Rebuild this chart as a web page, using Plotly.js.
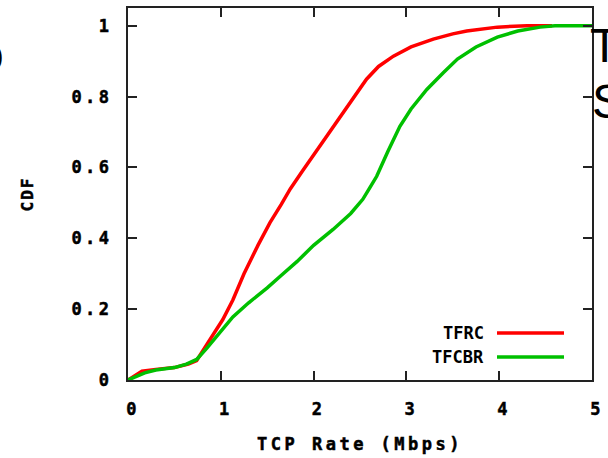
<!DOCTYPE html>
<html>
<head>
<meta charset="utf-8">
<script src="https://cdn.plot.ly/plotly-3.0.1.min.js"></script>
<style>
  html, body { margin: 0; padding: 0; background: #fff; }
  #chart { width: 608px; height: 458px; }
  #chart .xtick text, #chart .ytick text, #chart .xtitle, #chart .annotation.leg text { letter-spacing: 3.5px; stroke: #000; stroke-width: 0.5px; }
  #chart .ytitle { letter-spacing: 2px; stroke: #000; stroke-width: 0.5px; }
</style>
</head>
<body>
<div id="chart"></div>
<script>
// TFRC CDF (x: TCP rate in Mbps, y: CDF)
const tfrcX = [0, 0.1, 0.15, 0.3, 0.5, 0.65, 0.74, 0.8, 0.86, 0.95, 1.02, 1.13, 1.25, 1.4, 1.53, 1.65, 1.75, 1.88, 2.0, 2.21, 2.4, 2.57, 2.7, 2.86, 3.05, 3.29, 3.5, 3.65, 3.98, 4.3, 4.57];
const tfrcY = [0, 0.015, 0.025, 0.03, 0.035, 0.045, 0.055, 0.08, 0.105, 0.14, 0.17, 0.226, 0.3, 0.38, 0.444, 0.495, 0.54, 0.59, 0.635, 0.715, 0.785, 0.849, 0.885, 0.914, 0.94, 0.962, 0.977, 0.985, 0.996, 1.0, 1.0];
// TFCBR CDF
const tfcbrX = [0, 0.1, 0.18, 0.3, 0.5, 0.63, 0.74, 0.85, 0.99, 1.13, 1.3, 1.5, 1.65, 1.82, 2.0, 2.21, 2.4, 2.53, 2.6, 2.68, 2.8, 2.93, 3.05, 3.22, 3.4, 3.55, 3.75, 3.98, 4.2, 4.44, 4.6, 5.0];
const tfcbrY = [0, 0.01, 0.02, 0.028, 0.035, 0.045, 0.058, 0.09, 0.133, 0.178, 0.218, 0.26, 0.295, 0.334, 0.38, 0.425, 0.47, 0.51, 0.54, 0.575, 0.645, 0.716, 0.765, 0.82, 0.868, 0.906, 0.94, 0.968, 0.985, 0.996, 1.0, 1.0];

const seriesNames = ["TFRC", "TFCBR"];
const seriesColors = ["#ff0000", "#00c000"];
const xTicks = [0, 1, 2, 3, 4, 5];
const xTickText = ["0", "1", "2", "3", "4", "5"];
const yTicks = [0, 0.2, 0.4, 0.6, 0.8, 1];
const yTickText = ["0", "0.2", "0.4", "0.6", "0.8", "1"];

const gpFont = { family: "DejaVu Sans Mono", size: 17, color: "#000", weight: "bold" };
const gpTitleFontY = { family: "DejaVu Sans Mono", size: 16, color: "#000", weight: "bold" };

const traces = [
  { x: tfrcX, y: tfrcY, type: "scatter", mode: "lines", name: seriesNames[0],
    line: { color: seriesColors[0], width: 3.5 }, showlegend: false, hoverinfo: "skip" },
  { x: tfcbrX, y: tfcbrY, type: "scatter", mode: "lines", name: seriesNames[1],
    line: { color: seriesColors[1], width: 3.5 }, showlegend: false, hoverinfo: "skip" }
];

const L = 128, R = 16, T = 8, B = 78;
const W = 608, H = 458;
const pw = W - L - R, ph = H - T - B;
const px = v => (v - L) / pw;
const py = v => (H - B - v) / ph;

const legY = [333, 357];
const annotations = [];
const shapes = [];
seriesNames.forEach((n, i) => {
  annotations.push({ text: n, xref: "paper", yref: "paper", x: px(486), y: py(legY[i]),
    xanchor: "right", yanchor: "middle", showarrow: false, font: gpFont, captureevents: false });
  shapes.push({ type: "line", xref: "paper", yref: "paper", x0: px(497), x1: px(564),
    y0: py(legY[i]), y1: py(legY[i]), line: { color: seriesColors[i], width: 3.5 } });
});
// clipped slide text around the chart picture
const slideFont = { family: "Liberation Sans", size: 48, color: "#000" };
annotations.push({ text: "T", xref: "paper", yref: "paper", x: px(588), y: py(45),
  xanchor: "left", yanchor: "middle", showarrow: false, font: slideFont });
annotations.push({ text: "S", xref: "paper", yref: "paper", x: px(590), y: py(101),
  xanchor: "left", yanchor: "middle", showarrow: false, font: slideFont });
annotations.push({ text: "o", xref: "paper", yref: "paper", x: px(6), y: py(54),
  xanchor: "right", yanchor: "middle", showarrow: false, font: slideFont });

const axisCommon = {
  showline: true, linecolor: "#222", linewidth: 2, mirror: "ticks",
  ticks: "inside", ticklen: 9, tickwidth: 2, tickcolor: "#222",
  showgrid: false, zeroline: false, tickfont: gpFont, automargin: false, fixedrange: true
};

const layout = {
  width: W, height: H,
  margin: { l: L, r: R, t: T, b: B },
  paper_bgcolor: "#fff", plot_bgcolor: "#fff",
  xaxis: Object.assign({}, axisCommon, {
    range: [0, 5], tickvals: xTicks, ticktext: xTickText, ticklabelshift: 5, ticklabelstandoff: 13,
    title: { text: "TCP Rate (Mbps)", font: gpFont, standoff: 20 }
  }),
  yaxis: Object.assign({}, axisCommon, {
    range: [0, 1.05], tickvals: yTicks, ticktext: yTickText, ticklabelstandoff: 10,
    title: { text: "CDF", font: gpTitleFontY, standoff: 44 }
  }),
  annotations: annotations,
  shapes: shapes,
  showlegend: false
};

Plotly.newPlot("chart", traces, layout, { displayModeBar: false, staticPlot: true });
</script>
</body>
</html>
